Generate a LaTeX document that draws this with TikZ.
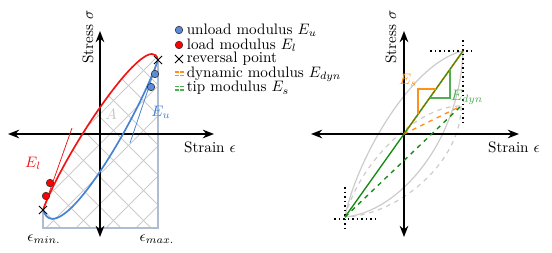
\documentclass[tikz,border=0pt]{standalone}
\usepackage{tikz}
\usetikzlibrary{arrows.meta,shapes.misc}

\definecolor{loadred}{RGB}{240,20,20}
\definecolor{unloadblue}{RGB}{70,130,210}
\definecolor{dotblue}{RGB}{90,140,215}
\definecolor{boxblue}{RGB}{175,188,210}
\definecolor{dynorange}{RGB}{255,145,25}
\definecolor{tipgreen}{RGB}{20,140,20}
\definecolor{lblgreen}{RGB}{80,175,80}

\begin{document}
\begin{tikzpicture}[
  x=0.0232cm, y=-0.0232cm,
  >={Stealth[length=2.6mm,width=2mm]},
  axis/.style={<->, line width=1pt, black},
  lbl/.style={inner sep=1pt},
  udot/.style={circle, draw=black!80, fill=dotblue, inner sep=0pt, minimum size=1.75mm},
  ldot/.style={circle, draw=black!80, fill=red, inner sep=0pt, minimum size=1.75mm},
  xmark/.style={cross out, draw=black, semithick, inner sep=0pt, minimum size=1.7mm},
  hatch/.style={gray!40, line width=0.5pt},
  loop/.style={gray!40, line width=0.8pt},
  dotline/.style={black, line width=1pt, dotted},
  legdash/.style={line width=0.7pt, dash pattern=on 2.4pt off 1pt}
]
\useasboundingbox (0,0) rectangle (552,253);

%% ── Left: hysteresis loop ───────────────────────────────────────────
\coordinate (lw) at (8,134);
\coordinate (le) at (214,134);
\coordinate (ln) at (100,31);
\coordinate (ls) at (100,237);
\coordinate (lmin) at (43,210);
\coordinate (lmax) at (158,60);
\coordinate (lbl1) at (43,228);
\coordinate (lbr1) at (158,228);

% area under the load branch
\begin{scope}
  \clip (lbl1) -- (lmin) .. controls (65,150) and (150,25) .. (lmax) -- (lbr1) -- cycle;
  \foreach \c in {94,124,...,394}
    \draw[hatch] (0,\c) -- (250,\c-250);
  \foreach \c in {-197,-167,...,103}
    \draw[hatch] (0,-\c) -- (250,250-\c);
\end{scope}
\draw[boxblue, line width=0.8pt] (lmin) -- (lbl1) -- (lbr1) -- (lmax);
\node[lbl, gray!45] (area) at (111,114) {$A$};

\draw[axis] (lw) -- (le);
\draw[axis] (ls) -- (ln);
\node[lbl, rotate=90] (stressl) at (88,37) {Stress $\sigma$};
\node[lbl] (strainl) at (210,147) {Strain $\epsilon$};
\node[lbl] (emin) at (44,239) {$\epsilon_{min.}$};
\node[lbl] (emax) at (157,239) {$\epsilon_{max.}$};

% branches and tangents
\coordinate (eltop) at (72,128);
\coordinate (eubot) at (130,143);
\draw[loadred, line width=0.5pt] (lmin) -- (eltop);
\draw[unloadblue, line width=0.5pt] (eubot) -- (lmax);
\draw[loadred, line width=1.1pt] (lmin) .. controls (65,150) and (150,25) .. (lmax);
\draw[unloadblue, line width=1.1pt] (lmax) .. controls (136,122) and (58,254) .. (lmin);
\node[lbl, loadred] (el) at (33,163) {$E_l$};
\node[lbl, unloadblue] (eu) at (161,112) {$E_u$};

\node[ldot] (l1) at (50,183) {};
\node[ldot] (l2) at (46,196) {};
\node[udot] (u1) at (151,87) {};
\node[udot] (u2) at (155,74) {};
\node[xmark] (rmin) at (lmin) {};
\node[xmark] (rmax) at (lmax) {};

%% ── Legend ──────────────────────────────────────────────────────────
\node[udot] (kblue) at (179,30) {};
\node[ldot] (kred) at (179,45) {};
\node[xmark] (kcross) at (179,59) {};
\draw[legdash, dynorange] (175,72) -- (184,72) (175,75.5) -- (184,75.5);
\draw[legdash, lblgreen] (175,86.5) -- (184,86.5) (175,90) -- (184,90);
\node[lbl, anchor=west] (tblue) at (185,30) {unload modulus $E_u$};
\node[lbl, anchor=west] (tred) at (185,45) {load modulus $E_l$};
\node[lbl, anchor=west] (tcross) at (185,59) {reversal point};
\node[lbl, anchor=west] (torange) at (185,74) {dynamic modulus $E_{dyn}$};
\node[lbl, anchor=west] (tgreen) at (185,88) {tip modulus $E_s$};

%% ── Right: dynamic vs. tip modulus ──────────────────────────────────
\coordinate (rw) at (311,134);
\coordinate (re) at (519,134);
\coordinate (rn) at (404,31);
\coordinate (rs) at (404,237);
\coordinate (ro) at (404,134);
\coordinate (pmin) at (345,217);
\coordinate (pmax) at (463,51);
\coordinate (qmax) at (461,106);

\draw[loop] (pmin) .. controls (356,160) and (412,62) .. (pmax);
\draw[loop] (pmax) .. controls (460,140) and (400,212) .. (pmin);
\draw[loop, dashed] (pmin) .. controls (360,160) and (420,105) .. (qmax);
\draw[loop, dashed] (qmax) .. controls (462,160) and (400,215) .. (pmin);

\draw[axis] (rw) -- (re);
\draw[axis] (rs) -- (rn);
\node[lbl, rotate=90] (stressr) at (391,37) {Stress $\sigma$};
\node[lbl] (strainr) at (514,147) {Strain $\epsilon$};

\draw[dotline] (430,51) -- (474,51);
\draw[dotline] (463,40) -- (463,126);
\draw[dotline] (334,219) -- (376,219);
\draw[dotline] (345,187) -- (345,228);

\draw[tipgreen, line width=0.9pt, dashed] (pmin) -- (qmax);
\draw[dynorange, line width=0.9pt, dashed] (ro) -- (qmax);
\draw[tipgreen, line width=0.9pt] (pmin) -- (pmax);
\draw[dynorange, line width=1pt] (ro) -- (pmax);
\draw[tipgreen, line width=0.5pt] (ro) -- (pmax);

\draw[dynorange, line width=0.8pt] (418,114) -- (418,89) -- (436,89);
\draw[lblgreen, line width=0.8pt] (430,98) -- (450,98) -- (450,69);
\node[lbl, dynorange] (es) at (408,80) {$E_s$};
\node[lbl, lblgreen] (edyn) at (467,97) {$E_{dyn}$};

\end{tikzpicture}
\end{document}
